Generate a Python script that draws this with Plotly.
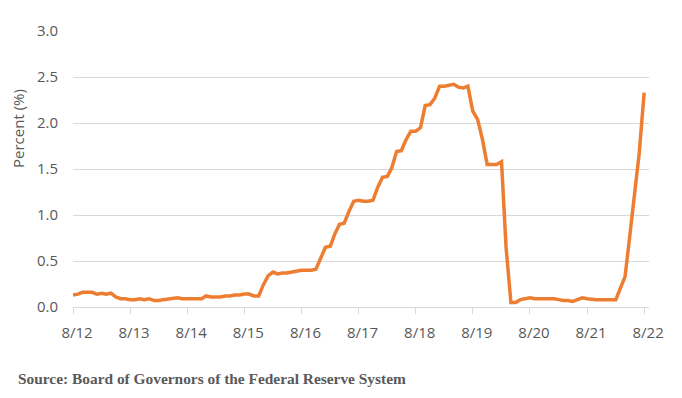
import plotly.graph_objects as go
import pandas as pd

# Monthly effective federal funds rate, Aug 2012 - Aug 2022
start_month = "2012-08-01"
rates = [
    0.13, 0.14, 0.16, 0.16, 0.16,                                          # 2012 Aug-Dec
    0.14, 0.15, 0.14, 0.15, 0.11, 0.09, 0.09, 0.08, 0.08, 0.09, 0.08, 0.09,  # 2013
    0.07, 0.07, 0.08, 0.09, 0.09, 0.10, 0.09, 0.09, 0.09, 0.09, 0.09, 0.12,  # 2014
    0.11, 0.11, 0.11, 0.12, 0.12, 0.13, 0.13, 0.14, 0.14, 0.12, 0.12, 0.24,  # 2015
    0.34, 0.38, 0.36, 0.37, 0.37, 0.38, 0.39, 0.40, 0.40, 0.40, 0.41, 0.54,  # 2016
    0.65, 0.66, 0.79, 0.90, 0.91, 1.04, 1.15, 1.16, 1.15, 1.15, 1.16, 1.30,  # 2017
    1.41, 1.42, 1.51, 1.69, 1.70, 1.82, 1.91, 1.91, 1.95, 2.19, 2.20, 2.27,  # 2018
    2.40, 2.40, 2.41, 2.42, 2.39, 2.38, 2.40, 2.13, 2.04, 1.83, 1.55, 1.55,  # 2019
    1.55, 1.58, 0.65, 0.05, 0.05, 0.08, 0.09, 0.10, 0.09, 0.09, 0.09, 0.09,  # 2020
    0.09, 0.08, 0.07, 0.07, 0.06, 0.08, 0.10, 0.09, 0.08, 0.08, 0.08, 0.08,  # 2021
    0.08, 0.08, 0.20, 0.33, 0.77, 1.21, 1.68, 2.33,                          # 2022 Jan-Aug
]
months = pd.date_range(start_month, periods=len(rates), freq="MS")

tick_dates = pd.date_range("2012-08-01", "2022-08-01", freq="12MS")
tick_labels = ["8/12", "8/13", "8/14", "8/15", "8/16", "8/17", "8/18", "8/19", "8/20", "8/21", "8/22"]
y_ticks = [0.0, 0.5, 1.0, 1.5, 2.0, 2.5, 3.0]

fig = go.Figure()
fig.add_trace(go.Scatter(
    x=months, y=rates, mode="lines",
    line=dict(color="#ED7D31", width=3.5),
    hoverinfo="x+y",
))

grey = "#595959"
# page body has an 8px margin, so the figure is 8px smaller in each direction
fig.update_layout(
    width=674, height=390,
    margin=dict(l=65, r=33, t=13, b=91),
    plot_bgcolor="white", paper_bgcolor="white",
    showlegend=False,
    font=dict(family="Open Sans", color=grey),
    xaxis=dict(
        range=["2012-08-01", "2022-09-01"],
        tickmode="array", tickvals=tick_dates, ticktext=tick_labels,
        showgrid=False, zeroline=False,
        showline=True, linecolor="#d9d9d9", linewidth=1,
        ticks="outside", ticklen=6, tickcolor="#d9d9d9", tickwidth=1,
        tickfont=dict(family="Open Sans", size=15, color=grey),
        ticklabelstandoff=6, ticklabelshift=4,
    ),
    yaxis=dict(
        range=[0, 3.0],
        tickmode="array", tickvals=y_ticks,
        ticktext=[f"{v:.1f}" for v in y_ticks],
        showgrid=True, gridcolor="#d9d9d9", gridwidth=1,
        zeroline=False, showline=False,
        tickfont=dict(family="Open Sans", size=15, color=grey),
        ticklabelstandoff=14,
    ),
)

# y-axis title (placed where the reference puts it, above plot centre)
fig.add_annotation(
    text="Percent (%)", textangle=-90,
    xref="paper", yref="paper", x=0, y=1,
    xanchor="center", yanchor="middle",
    xshift=18 - 73, yshift=-(119 - 21),
    showarrow=False,
    font=dict(family="Open Sans", size=15, color=grey),
)

fig.add_annotation(
    text="Source: Board of Governors of the Federal Reserve System",
    xref="paper", yref="paper", x=0, y=0,
    xanchor="left", yanchor="middle",
    xshift=16 - 73, yshift=-(378 - 307),
    showarrow=False,
    font=dict(family="Liberation Serif", size=15.4, color=grey, weight="bold"),
)

fig.write_html("out.html")
